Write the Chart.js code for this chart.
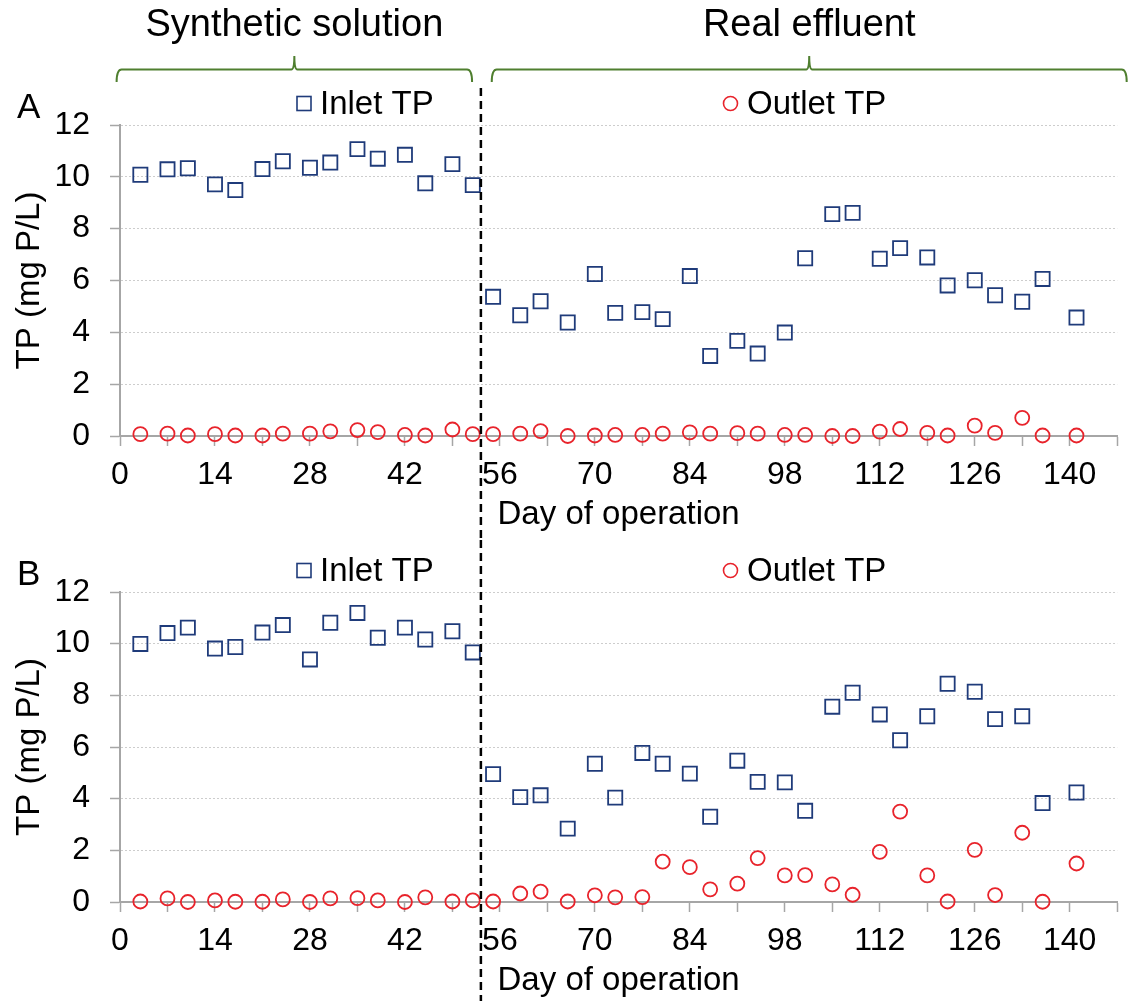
<!DOCTYPE html>
<html>
<head>
<meta charset="utf-8">
<script src="https://cdn.jsdelivr.net/npm/chart.js@4.4.0/dist/chart.umd.min.js"></script>
<style>
  html, body { margin: 0; padding: 0; background: #fff; overflow: hidden; }
  canvas { display: block; }
</style>
</head>
<body>
<canvas id="chartA" width="1129" height="540"></canvas>
<canvas id="chartB" width="1129" height="461"></canvas>
<script>
// Sampling days (shared by both panels)
const days = [3, 7, 10, 14, 17, 21, 24, 28, 31, 35, 38, 42, 45, 49, 52,
              55, 59, 62, 66, 70, 73, 77, 80, 84, 87, 91, 94, 98, 101, 105,
              108, 112, 115, 119, 122, 126, 129, 133, 136, 141];

// Panel A
const inletA = [10.08, 10.29, 10.33, 9.71, 9.49, 10.30, 10.60, 10.35, 10.55, 11.07, 10.70, 10.85, 9.75, 10.49, 9.68,
                5.37, 4.66, 5.20, 4.38, 6.25, 4.75, 4.78, 4.51, 6.17, 3.09, 3.67, 3.18, 3.99, 6.86, 8.56,
                8.61, 6.84, 7.25, 6.89, 5.81, 6.01, 5.43, 5.18, 6.06, 4.57];
const outletA = [0.07, 0.09, 0.02, 0.07, 0.02, 0.02, 0.09, 0.09, 0.18, 0.23, 0.15, 0.04, 0.02, 0.25, 0.07,
                 0.07, 0.09, 0.19, 0.00, 0.02, 0.04, 0.04, 0.09, 0.14, 0.09, 0.11, 0.09, 0.04, 0.04, 0.00,
                 0.00, 0.17, 0.27, 0.12, 0.02, 0.40, 0.12, 0.70, 0.02, 0.02];

// Panel B
const inletB = [9.99, 10.41, 10.62, 9.81, 9.87, 10.43, 10.72, 9.39, 10.81, 11.19, 10.23, 10.62, 10.16, 10.48, 9.66,
                4.95, 4.06, 4.13, 2.84, 5.35, 4.04, 5.77, 5.35, 4.97, 3.30, 5.47, 4.65, 4.63, 3.53, 7.56,
                8.10, 7.26, 6.26, 7.19, 8.45, 8.14, 7.08, 7.19, 3.83, 4.24];
const outletB = [0.02, 0.14, 0.00, 0.06, 0.01, 0.01, 0.10, 0.00, 0.14, 0.15, 0.06, 0.00, 0.18, 0.02, 0.06,
                 0.02, 0.33, 0.40, 0.02, 0.26, 0.18, 0.19, 1.56, 1.35, 0.49, 0.71, 1.70, 1.03, 1.04, 0.68,
                 0.28, 1.94, 3.50, 1.03, 0.02, 2.02, 0.27, 2.68, 0.01, 1.49];

// Day the feed switched from synthetic solution to real effluent
const SWITCH_DAY = 53.2;

// Labels / phases
const seriesNames = ['Inlet TP', 'Outlet TP'];
const phases = [
    { text: 'Synthetic solution', from: -0.5, to: 51.9 },
    { text: 'Real effluent', from: 54.8, to: 148.4 }
];

const FONT = "'Liberation Sans', Arial, sans-serif";
const INLET_COLOR = '#1f3b7a';
const OUTLET_COLOR = '#e8232b';
const AXIS_COLOR = '#a6a6a6';
const GRID_COLOR = '#cdcdcd';
const BRACE_COLOR = '#4f7f2f';

function toPoints(values) {
    return days.map((d, i) => ({ x: d, y: values[i] }));
}

// Braces, legend, panel letter and the dashed divider line
const decorPlugin = {
    id: 'decor',
    afterDraw(chart, args, opts) {
        const { ctx, chartArea } = chart;
        const xs = chart.scales.x;
        ctx.save();

        // phase braces at the top
        (opts.braces ? phases : []).forEach(p => {
            const x1 = xs.getPixelForValue(p.from);
            const x2 = xs.getPixelForValue(p.to);
            const xm = (x1 + x2) / 2;
            const y0 = 69.5, yEnd = 82, yTop = 56, r = 5;
            ctx.strokeStyle = BRACE_COLOR;
            ctx.lineWidth = 2;
            ctx.beginPath();
            ctx.moveTo(x1, yEnd);
            ctx.quadraticCurveTo(x1, y0, x1 + r, y0);
            ctx.lineTo(xm - 3, y0);
            ctx.quadraticCurveTo(xm, y0, xm, yTop);
            ctx.quadraticCurveTo(xm, y0, xm + 3, y0);
            ctx.lineTo(x2 - r, y0);
            ctx.quadraticCurveTo(x2, y0, x2, yEnd);
            ctx.stroke();

            ctx.fillStyle = '#000';
            ctx.font = '38px ' + FONT;
            ctx.textAlign = 'center';
            ctx.textBaseline = 'alphabetic';
            ctx.fillText(p.text, xm, 36);
        });

        // legend
        const ly = chartArea.top - 21.5;
        const base = chartArea.top - 11;
        ctx.lineWidth = 1.6;
        ctx.strokeStyle = INLET_COLOR;
        ctx.strokeRect(297, ly - 7, 14, 14);
        ctx.strokeStyle = OUTLET_COLOR;
        ctx.beginPath();
        ctx.arc(730.5, ly, 7, 0, Math.PI * 2);
        ctx.stroke();
        ctx.fillStyle = '#000';
        ctx.font = '33px ' + FONT;
        ctx.textAlign = 'left';
        ctx.textBaseline = 'alphabetic';
        ctx.fillText(seriesNames[0], 320, base);
        ctx.fillText(seriesNames[1], 747, base);

        // panel letter
        ctx.font = '35px ' + FONT;
        ctx.fillText(opts.letter, 17, chartArea.top - 7);

        // dashed divider
        const dx = xs.getPixelForValue(SWITCH_DAY);
        ctx.strokeStyle = '#000';
        ctx.lineWidth = 2.5;
        ctx.setLineDash([8, 5]);
        ctx.beginPath();
        ctx.moveTo(dx, opts.dashTop);
        ctx.lineTo(dx, chart.height);
        ctx.stroke();

        ctx.restore();
    }
};

function makeChart(id, inlet, outlet, decor, padTop, padBottom) {
    const ctx = document.getElementById(id).getContext('2d');
    return new Chart(ctx, {
        type: 'scatter',
        data: {
            datasets: [
                {
                    label: seriesNames[0],
                    data: toPoints(inlet),
                    pointStyle: 'rect',
                    pointRadius: 10,
                    pointBorderWidth: 1.8,
                    borderColor: INLET_COLOR,
                    backgroundColor: 'rgba(0,0,0,0)',
                    clip: false
                },
                {
                    label: seriesNames[1],
                    data: toPoints(outlet),
                    pointStyle: 'circle',
                    pointRadius: 7,
                    pointBorderWidth: 1.8,
                    borderColor: OUTLET_COLOR,
                    backgroundColor: 'rgba(0,0,0,0)',
                    clip: false
                }
            ]
        },
        options: {
            responsive: false,
            animation: false,
            devicePixelRatio: 1,
            layout: { padding: { top: padTop, bottom: padBottom, left: 10, right: 6 } },
            plugins: {
                legend: { display: false },
                tooltip: { enabled: false },
                decor: decor
            },
            scales: {
                x: {
                    type: 'linear',
                    min: 0,
                    max: 147,
                    afterFit: s => { s.height = 99; },
                    ticks: {
                        stepSize: 7,
                        autoSkip: false,
                        maxRotation: 0,
                        padding: 10,
                        color: '#000',
                        font: { family: FONT, size: 32 },
                        callback: v => (v % 14 === 0 ? v : '')
                    },
                    grid: { drawOnChartArea: false, tickLength: 10, tickColor: AXIS_COLOR, tickWidth: 1.5 },
                    border: { color: AXIS_COLOR, width: 2 },
                    title: {
                        display: true,
                        text: 'Day of operation',
                        color: '#000',
                        font: { family: FONT, size: 33 },
                        padding: 0
                    }
                },
                y: {
                    min: 0,
                    max: 12,
                    afterFit: s => { s.width = 110; },
                    ticks: {
                        stepSize: 1,
                        padding: 20,
                        color: '#000',
                        font: { family: FONT, size: 32 },
                        callback: v => (v % 2 === 0 ? v : '')
                    },
                    grid: {
                        color: c => (c.tick && c.tick.value % 2 === 0 ? GRID_COLOR : 'rgba(0,0,0,0)'),
                        lineWidth: 1,
                        tickLength: 10,
                        tickColor: AXIS_COLOR,
                        tickWidth: 1.5
                    },
                    border: { color: AXIS_COLOR, width: 2, dash: [2, 2] },
                    title: {
                        display: true,
                        text: 'TP (mg P/L)',
                        color: '#000',
                        font: { family: FONT, size: 33 },
                        padding: 0
                    }
                }
            }
        },
        plugins: [decorPlugin]
    });
}

makeChart('chartA', inletA, outletA, { letter: 'A', braces: true, dashTop: 88 }, 125, 5);
makeChart('chartB', inletB, outletB, { letter: 'B', braces: false, dashTop: 0 }, 52, 0);
</script>
</body>
</html>
